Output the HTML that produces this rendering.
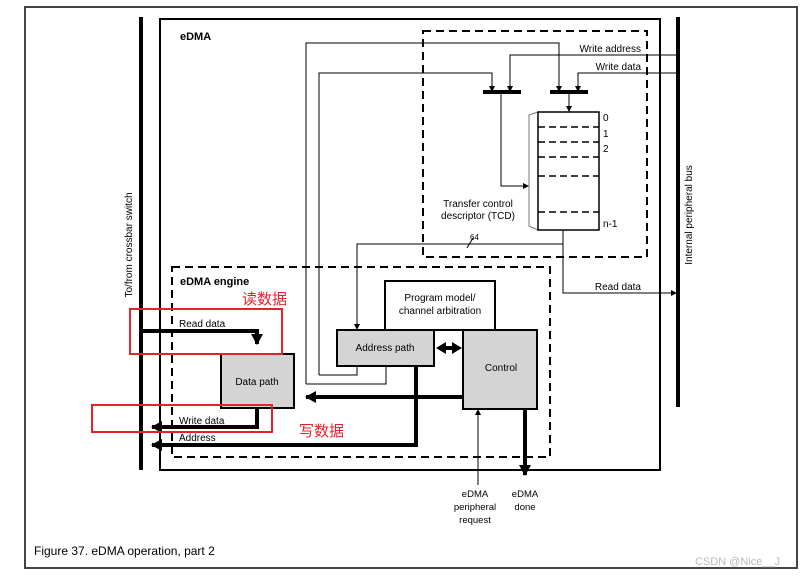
<!DOCTYPE html>
<html><head><meta charset="utf-8"><style>
body{margin:0;background:#fff}
svg{display:block;font-family:"Liberation Sans","Noto Sans CJK SC",sans-serif}
</style></head><body>
<svg width="810" height="576" viewBox="0 0 810 576" xmlns="http://www.w3.org/2000/svg">
<defs>
<marker id="a" markerWidth="6" markerHeight="6" refX="5" refY="3" orient="auto" markerUnits="userSpaceOnUse"><path d="M0,0 L6,3 L0,6z" fill="#000"/></marker>
<marker id="b" markerWidth="12" markerHeight="12" refX="10" refY="6" orient="auto" markerUnits="userSpaceOnUse"><path d="M0,0 L11,6 L0,12z" fill="#000"/></marker>
</defs>
<rect x="25" y="7" width="772" height="561" fill="none" stroke="#444" stroke-width="2"/>
<!-- buses -->
<line x1="141" y1="17" x2="141" y2="470" stroke="#000" stroke-width="4"/>
<line x1="678" y1="17" x2="678" y2="407" stroke="#000" stroke-width="4"/>
<rect x="160" y="19" width="500" height="451" fill="none" stroke="#000" stroke-width="2"/>
<text x="180" y="40" font-size="11" font-weight="bold">eDMA</text>
<text transform="translate(132,245) rotate(-90)" font-size="10" text-anchor="middle">To/from crossbar switch</text>
<text transform="translate(692,215) rotate(-90)" font-size="10" text-anchor="middle">Internal peripheral bus</text>
<!-- TCD dashed -->
<rect x="423" y="31" width="224" height="226" fill="none" stroke="#000" stroke-width="2" stroke-dasharray="8,5"/>
<rect x="172" y="267" width="378" height="190" fill="none" stroke="#000" stroke-width="2" stroke-dasharray="8,5"/>
<text x="180" y="285" font-size="11" font-weight="bold">eDMA engine</text>
<!-- thin lines -->
<g fill="none" stroke="#000" stroke-width="1">
<polyline points="306,384 306,43 559,43 559,91" marker-end="url(#a)"/>
<polyline points="319,375 319,73 492,73 492,91" marker-end="url(#a)"/>
<polyline points="676,55 510,55 510,91" marker-end="url(#a)"/>
<polyline points="676,73 578,73 578,91" marker-end="url(#a)"/>
<polyline points="501,94 501,186 528,186" marker-end="url(#a)"/>
<polyline points="569,94 569,111" marker-end="url(#a)"/>
<polyline points="563,230 563,293 676,293" marker-end="url(#a)"/>
<polyline points="563,244 357,244 357,329" marker-end="url(#a)"/>
<line x1="467" y1="248" x2="473" y2="238"/>
<polyline points="306,384 386,384 386,366"/>
<polyline points="319,375 357,375 357,366"/>
<polyline points="478,485 478,410" marker-end="url(#a)"/>
</g>
<rect x="483" y="90" width="38" height="4" fill="#000"/>
<rect x="550" y="90" width="38" height="4" fill="#000"/>
<!-- TCD -->
<polygon points="529,115 538,112 538,230 529,226" fill="#fff" stroke="#777" stroke-width="1"/>
<rect x="538" y="112" width="61" height="118" fill="#fff" stroke="#000" stroke-width="1.5"/>
<g stroke="#000" stroke-width="1.5" stroke-dasharray="7,4">
<line x1="538" y1="127" x2="599" y2="127"/><line x1="538" y1="142" x2="599" y2="142"/>
<line x1="538" y1="157" x2="599" y2="157"/><line x1="538" y1="176" x2="599" y2="176"/>
<line x1="538" y1="212" x2="599" y2="212"/></g>
<g font-size="10">
<text x="603" y="121">0</text><text x="603" y="137">1</text><text x="603" y="152">2</text><text x="603" y="227">n-1</text>
<text x="478" y="207" text-anchor="middle">Transfer control</text>
<text x="478" y="219" text-anchor="middle">descriptor (TCD)</text>
<text x="470" y="240" font-size="8">64</text>
<text x="641" y="52" text-anchor="end">Write address</text>
<text x="641" y="70" text-anchor="end">Write data</text>
<text x="641" y="290" text-anchor="end">Read data</text>
<text x="179" y="327">Read data</text>
<text x="179" y="424">Write data</text>
<text x="179" y="441">Address</text>
</g>
<!-- boxes -->
<rect x="385" y="281" width="110" height="49" fill="#fff" stroke="#000" stroke-width="2"/>
<text x="440" y="301" font-size="10" text-anchor="middle">Program model/</text>
<text x="440" y="314" font-size="10" text-anchor="middle">channel arbitration</text>
<rect x="337" y="330" width="97" height="36" fill="#d4d4d4" stroke="#000" stroke-width="2"/>
<text x="385" y="351" font-size="10" text-anchor="middle">Address path</text>
<rect x="463" y="330" width="74" height="79" fill="#d4d4d4" stroke="#000" stroke-width="2"/>
<text x="501" y="371" font-size="10" text-anchor="middle">Control</text>
<rect x="221" y="354" width="73" height="54" fill="#d4d4d4" stroke="#000" stroke-width="2"/>
<text x="257" y="385" font-size="10" text-anchor="middle">Data path</text>
<!-- thick arrows -->
<g fill="none" stroke="#000" stroke-width="4">
<polyline points="141,331 257,331 257,344" marker-end="url(#b)"/>
<polyline points="257,409 257,427 152,427" marker-end="url(#b)"/>
<polyline points="416,366 416,445 152,445" marker-end="url(#b)"/>
<polyline points="463,397 306,397" marker-end="url(#b)"/>
<polyline points="525,409 525,475" marker-end="url(#b)"/>
<line x1="445" y1="348" x2="453" y2="348"/>
</g>
<path d="M436,348 L446,342 L446,354z M462,348 L452,342 L452,354z" fill="#000"/>
<g font-size="9.5" text-anchor="middle">
<text x="475" y="497">eDMA</text><text x="475" y="510">peripheral</text><text x="475" y="523">request</text>
<text x="525" y="497">eDMA</text><text x="525" y="510">done</text>
</g>
<!-- red annotations -->
<rect x="130" y="309" width="152" height="45" fill="none" stroke="#e8202a" stroke-width="2"/>
<rect x="92" y="405" width="180" height="27" fill="none" stroke="#e8202a" stroke-width="2"/>
<text x="242" y="304" font-size="15" fill="#e8202a">读数据</text>
<text x="299" y="436" font-size="15" fill="#e8202a">写数据</text>
<text x="34" y="555" font-size="12">Figure 37.  eDMA operation, part 2</text>
<text x="695" y="565" font-size="11" fill="#bbb">CSDN @Nice__J</text>
</svg>
</body></html>
